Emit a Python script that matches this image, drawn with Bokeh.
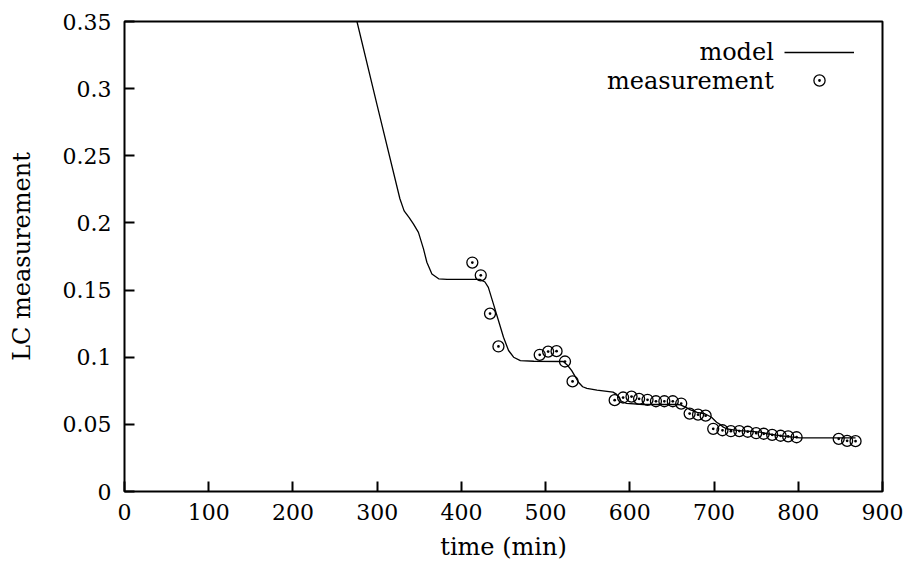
from bokeh.plotting import figure
from bokeh.models import FixedTicker, Range1d, Legend, LegendItem, Label
from bokeh.embed import file_html
from bokeh.resources import INLINE

# ---------------- data ----------------
model_t = [260, 276, 300, 327, 332, 338, 343, 349, 355, 359, 365, 373, 383, 422,
           428, 432, 438, 444, 450, 456, 462, 470, 486, 521, 526, 531, 539, 544,
           549, 561, 580, 584, 587, 590, 596, 616, 656, 660, 666, 672, 680, 689,
           693, 697, 703, 707, 711, 715, 723, 731, 755, 763, 780, 802, 868]
model_y = [0.391, 0.350, 0.2875, 0.218, 0.209, 0.204, 0.1993, 0.193, 0.1807, 0.1707,
           0.162, 0.1584, 0.158, 0.158, 0.156, 0.152, 0.1397, 0.1273, 0.1149, 0.105,
           0.100, 0.0975, 0.097, 0.0968, 0.094, 0.090, 0.0814, 0.078, 0.0768, 0.0755,
           0.0740, 0.0725, 0.0700, 0.0672, 0.0657, 0.0648, 0.0648, 0.0645, 0.0628,
           0.0608, 0.0590, 0.0579, 0.0566, 0.0553, 0.0516, 0.0500, 0.0479, 0.0467,
           0.0459, 0.0454, 0.0442, 0.0430, 0.0415, 0.0400, 0.0400]

meas_t = [413, 423, 434, 444, 493, 503, 513, 523, 532, 582, 592, 602, 611, 621,
          631, 641, 651, 661, 671, 681, 690, 699, 710, 720, 730, 740, 750, 759,
          769, 779, 788, 798, 848, 858, 868]
meas_y = [0.1705, 0.161, 0.1325, 0.108, 0.1018, 0.1042, 0.1045, 0.0968, 0.082,
          0.068, 0.070, 0.0707, 0.069, 0.0683, 0.0672, 0.0672, 0.0672, 0.0655,
          0.058, 0.0572, 0.0565, 0.0467, 0.0456, 0.0449, 0.045, 0.0445, 0.0434,
          0.043, 0.0422, 0.0415, 0.041, 0.0404, 0.0392, 0.0377, 0.0375]

x_ticks = [0, 100, 200, 300, 400, 500, 600, 700, 800, 900]
x_labels = ["0", "100", "200", "300", "400", "500", "600", "700", "800", "900"]
y_ticks = [0, 0.05, 0.1, 0.15, 0.2, 0.25, 0.3, 0.35]
y_labels = ["0", "0.05", "0.1", "0.15", "0.2", "0.25", "0.3", "0.35"]

series_names = ["model", "measurement"]
x_title = "time (min)"
y_title = "LC measurement"

# ---------------- figure ----------------
FONT = "DejaVu Serif"
FS_TICK = "22px"
FS_TEXT = "24px"

p = figure(width=907, height=569, output_backend="svg", toolbar_location=None,
           x_range=Range1d(0, 900), y_range=Range1d(0, 0.35),
           min_border_left=124, min_border_right=25, min_border_top=21,
           min_border_bottom=78)
p.grid.visible = False
p.outline_line_color = "black"
p.outline_line_width = 2
p.outline_line_alpha = 1
p.background_fill_color = "white"
p.border_fill_color = "white"

for ax, ticks, labels, title in ((p.xaxis[0], x_ticks, x_labels, x_title),
                                 (p.yaxis[0], y_ticks, y_labels, y_title)):
    ax.ticker = FixedTicker(ticks=ticks)
    ax.major_label_overrides = dict(zip(ticks, labels))
    ax.axis_line_color = None
    ax.major_tick_in = 10
    ax.major_tick_out = 0
    ax.major_tick_line_width = 2
    ax.major_tick_line_color = "black"
    ax.minor_tick_line_color = None
    ax.major_label_text_font = FONT
    ax.major_label_text_font_size = FS_TICK
    ax.major_label_text_color = "black"
    ax.axis_label = title
    ax.axis_label_text_font = FONT
    ax.axis_label_text_font_size = FS_TEXT
    ax.axis_label_text_font_style = "normal"
    ax.axis_label_text_color = "black"

p.xaxis.major_label_standoff = 12
p.xaxis.axis_label_standoff = 10
p.yaxis.major_label_standoff = 13
p.yaxis.axis_label_standoff = 24

line_r = p.line(model_t, model_y, line_color="black", line_width=1.3)
pts_r = p.scatter(meas_t, meas_y, marker="circle_dot", size=11,
                  line_color="black", line_width=1.3, fill_color=None)

# legend glyphs (right side), labels drawn as right-aligned text
legend = Legend(items=[LegendItem(label=" ", renderers=[line_r]),
                       LegendItem(label=" ", renderers=[pts_r])],
                location=(660, 397), orientation="vertical",
                glyph_width=70, glyph_height=28, label_width=0, label_height=28,
                label_standoff=0, padding=0, margin=0, spacing=0,
                label_text_font_size="1px",
                border_line_alpha=0, background_fill_alpha=0)
p.add_layout(legend, "center")

for name, yv in zip(series_names, [0.327, 0.306]):
    p.add_layout(Label(x=771, y=yv, text=name, text_align="right",
                       text_baseline="middle", text_font=FONT,
                       text_font_size=FS_TEXT, text_color="black"))

open("out.html", "w").write(file_html(p, INLINE))
